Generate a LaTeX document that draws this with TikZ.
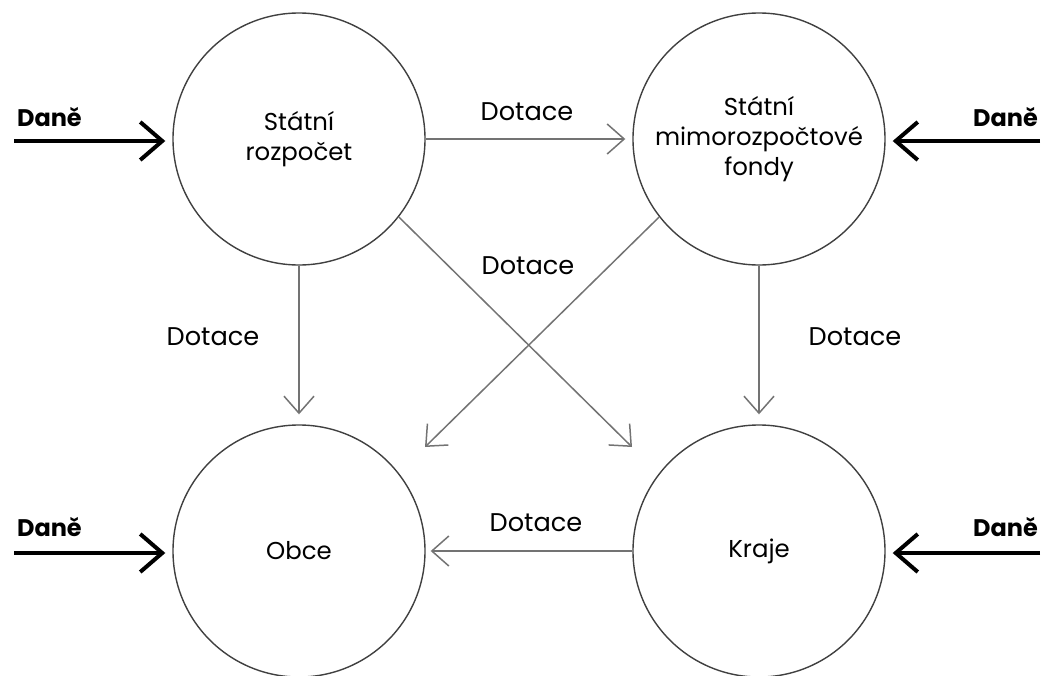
\documentclass[tikz,border=0pt]{standalone}
\usepackage{fontspec}
\setmainfont{Poppins}
\usetikzlibrary{arrows.meta}
\begin{document}
\begin{tikzpicture}[x=0.5pt,y=-0.5pt,
    every node/.style={font=\fontsize{12.8}{15}\selectfont},
    kruh/.style={draw=black!75,line width=0.7pt,circle,minimum size=126pt,inner sep=0pt,align=center,font=\fontsize{12.2}{15}\selectfont},
    dotace/.style={draw=black!55,line width=0.75pt,-{Straight Barb[length=8.5pt,width=15pt]}},
    dane/.style={draw=black,line width=2pt,-{Straight Barb[length=11pt,width=19pt]}},
    popis/.style={font=\bfseries\fontsize{12}{15}\selectfont}]
  \useasboundingbox (0,0) rectangle (1050,675);
  \draw
    (299,139) node[kruh] (sr){Státní\\rozpočet}
    (759,139) node[kruh] (smf){Státní\\mimorozpočtové\\fondy}
    (299,551) node[kruh] (obce){Obce}
    (759,551) node[kruh] (kraje){Kraje};
  \coordinate (d1) at (14,141);
  \coordinate (d2) at (1040,141);
  \coordinate (d3) at (14,553);
  \coordinate (d4) at (1040,553);
  \coordinate (k1) at (632,447);
  \coordinate (k2) at (425,447);
  \node[popis,anchor=west] (dn1) at (10,117) {Daně};
  \node[popis,anchor=east] (dn2) at (1045,117) {Daně};
  \node[popis,anchor=west] (dn3) at (10,527) {Daně};
  \node[popis,anchor=east] (dn4) at (1045,527) {Daně};
  \node (t1) at (527,112) {Dotace};
  \node (t2) at (528,266) {Dotace};
  \node (t3) at (213,337) {Dotace};
  \node (t4) at (855,337) {Dotace};
  \node (t5) at (536,523) {Dotace};
  \begin{scope}[dane,shorten >=3.5pt]
    \draw (d1) to (d1 -| sr.west);
    \draw (d2) to (d2 -| smf.east);
    \draw (d3) to (d3 -| obce.west);
    \draw (d4) to (d4 -| kraje.east);
  \end{scope}
  \begin{scope}[dotace]
    \draw[shorten >=3.5pt] (sr) to (smf);
    \draw[shorten >=5pt] (sr) to (obce);
    \draw[shorten >=5pt] (smf) to (kraje);
    \draw[shorten >=2.5pt] (kraje) to (obce);
    \draw (sr.-38) to (k1);
    \draw (smf.218) to (k2);
  \end{scope}
\end{tikzpicture}
\end{document}
